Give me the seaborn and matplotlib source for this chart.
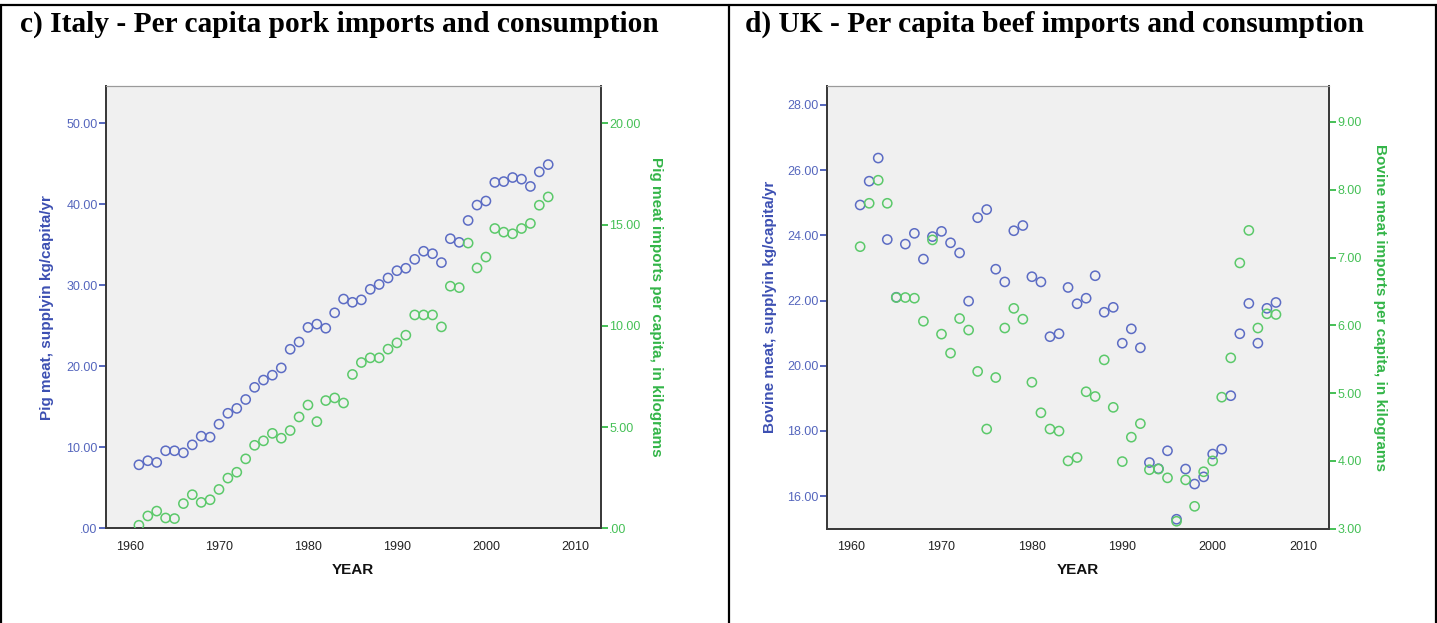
import matplotlib
matplotlib.use("Agg")
import matplotlib.pyplot as plt
from matplotlib.lines import Line2D
from matplotlib.ticker import FixedLocator, FuncFormatter
import seaborn as sns
import pandas as pd

# ---- data -------------------------------------------------------------
years = list(range(1961, 2008))

italy_pig_supply = [
    7.84, 8.34, 8.13, 9.57, 9.57, 9.32, 10.3, 11.37, 11.25, 12.85,
    14.2, 14.8, 15.9, 17.4, 18.3, 18.9, 19.8, 22.1, 23.0, 24.8,
    25.2, 24.7, 26.6, 28.3, 27.9, 28.2, 29.5, 30.1, 30.9, 31.8,
    32.1, 33.2, 34.2, 33.9, 32.8, 35.75, 35.3, 38.0, 39.9, 40.4,
    42.7, 42.8, 43.3, 43.1, 42.2, 44.0, 44.9,
]
italy_pig_imports = [
    0.15, 0.61, 0.85, 0.51, 0.48, 1.22, 1.66, 1.28, 1.41, 1.92,
    2.48, 2.77, 3.43, 4.10, 4.32, 4.69, 4.45, 4.83, 5.50, 6.09,
    5.27, 6.31, 6.44, 6.19, 7.60, 8.19, 8.42, 8.42, 8.85, 9.16,
    9.54, 10.54, 10.54, 10.54, 9.95, 11.96, 11.89, 14.09, 12.86, 13.40,
    14.81, 14.63, 14.55, 14.81, 15.06, 15.96, 16.37,
]
uk_beef_supply = [
    24.93, 25.66, 26.37, 23.87, 22.10, 23.73, 24.06, 23.27, 23.96, 24.12,
    23.77, 23.46, 21.98, 24.54, 24.79, 22.96, 22.57, 24.14, 24.30, 22.73,
    22.57, 20.89, 20.98, 22.40, 21.90, 22.07, 22.76, 21.64, 21.79, 20.69,
    21.13, 20.55, 17.03, 16.84, 17.39, 15.29, 16.83, 16.37, 16.59, 17.29,
    17.44, 19.08, 20.98, 21.91, 20.69, 21.76, 21.94,
]
uk_beef_imports = [
    7.16, 7.80, 8.14, 7.80, 6.41, 6.41, 6.40, 6.06, 7.26, 5.87,
    5.59, 6.10, 5.93, 5.32, 4.47, 5.23, 5.96, 6.25, 6.09, 5.16,
    4.71, 4.47, 4.44, 4.00, 4.05, 5.02, 4.95, 5.49, 4.79, 3.99,
    4.35, 4.55, 3.87, 3.88, 3.75, 3.11, 3.72, 3.33, 3.84, 4.00,
    4.94, 5.52, 6.92, 7.40, 5.96, 6.17, 6.16,
]

year_ticks = [1960, 1970, 1980, 1990, 2000, 2010]
italy_left_ticks = [0, 10, 20, 30, 40, 50]
italy_right_ticks = [0, 5, 10, 15, 20]
uk_left_ticks = [16, 18, 20, 22, 24, 26, 28]
uk_right_ticks = [3, 4, 5, 6, 7, 8, 9]

panel_titles = [
    "c) Italy - Per capita pork imports and consumption",
    "d) UK - Per capita beef imports and consumption",
]

# ---- style ------------------------------------------------------------
sns.set_style("white")
plt.rcParams["font.family"] = ["Liberation Sans", "DejaVu Sans"]

BLUE_MARK = "#5c6cc4"
BLUE_TEXT = "#5566bd"
BLUE_LABEL = "#3c4fb2"
GREEN_MARK = "#5bc96a"
GREEN_TEXT = "#45c056"
GREEN_LABEL = "#33b548"
SPINE = "#3a3a3a"
FACE = "#f0f0f0"


def spss_fmt(v, pos):
    s = f"{v:.2f}"
    return s[1:] if s.startswith("0") else s


fig = plt.figure(figsize=(14.37, 6.23), dpi=100)
W, H = 1437, 623


def px_axes(x0, y0, x1, y1):
    return fig.add_axes([x0 / W, 1 - y1 / H, (x1 - x0) / W, (y1 - y0) / H])


def draw_panel(rect, supply, imports, ylim_l, ylim_r, ticks_l, ticks_r,
               label_l, label_r, pad_l, pad_r):
    ax = px_axes(*rect)
    ax.set_facecolor(FACE)
    df = pd.DataFrame({"YEAR": years, "supply": supply, "imports": imports})

    sns.scatterplot(data=df, x="YEAR", y="supply", ax=ax, marker="o",
                    s=44, facecolors="none", edgecolor=BLUE_MARK,
                    linewidth=1.1, zorder=3)
    ax2 = ax.twinx()
    sns.scatterplot(data=df, x="YEAR", y="imports", ax=ax2, marker="o",
                    s=44, facecolors="none", edgecolor=GREEN_MARK,
                    linewidth=1.1, zorder=3)

    ax.set_xlim(1957.3, 2012.9)
    ax.set_ylim(*ylim_l)
    ax2.set_ylim(*ylim_r)

    ax.xaxis.set_major_locator(FixedLocator(year_ticks))
    ax.yaxis.set_major_locator(FixedLocator(ticks_l))
    ax2.yaxis.set_major_locator(FixedLocator(ticks_r))
    ax.yaxis.set_major_formatter(FuncFormatter(spss_fmt))
    ax2.yaxis.set_major_formatter(FuncFormatter(spss_fmt))

    for a in (ax, ax2):
        for side in ("left", "bottom", "right"):
            a.spines[side].set_color(SPINE)
            a.spines[side].set_linewidth(1.3)
        a.spines["top"].set_color("#9a9a9a")
        a.spines["top"].set_linewidth(0.8)

    ax.tick_params(axis="x", direction="out", length=6, width=1.0,
                   color=SPINE, labelsize=9, labelcolor="#222222", pad=3)
    ax.tick_params(axis="y", direction="out", length=5, width=1.4,
                   color=BLUE_TEXT, labelsize=9, labelcolor=BLUE_TEXT, pad=1)
    ax2.tick_params(axis="y", direction="out", length=5, width=1.4,
                    color=GREEN_TEXT, labelsize=9, labelcolor=GREEN_TEXT, pad=1)

    ax.set_xlabel("YEAR", fontsize=11, fontweight="bold", color="#111111",
                  labelpad=7)
    ax.set_ylabel(label_l, fontsize=11, fontweight="bold", color=BLUE_LABEL,
                  labelpad=pad_l)
    ax2.set_ylabel(label_r, fontsize=11, fontweight="bold",
                   color=GREEN_LABEL, rotation=270, labelpad=pad_r)
    ax2.set_xlabel("")
    return ax, ax2


draw_panel((106, 86, 600.7, 528.3), italy_pig_supply, italy_pig_imports,
           (0, 54.6), (0, 21.85), italy_left_ticks, italy_right_ticks,
           "Pig meat, supplyin kg/capita/yr",
           "Pig meat imports per capita, in kilograms", 9, 16)

draw_panel((826.7, 86, 1329.3, 528.7), uk_beef_supply, uk_beef_imports,
           (15.0, 28.58), (3.0, 9.53), uk_left_ticks, uk_right_ticks,
           "Bovine meat, supplyin kg/capita/yr",
           "Bovine meat imports per capita, in kilograms", 7, 18)

# ---- panel titles and table rules -------------------------------------
for x, title in zip((20, 745), panel_titles):
    fig.text(x / W, 1 - 32 / H, title, ha="left", va="baseline",
             fontsize=21.2, fontweight="bold",
             family=["Liberation Serif", "DejaVu Serif"], color="#000000")

rule = dict(color="#000000", linewidth=1.6, transform=fig.transFigure)
fig.add_artist(Line2D([0, 1], [1 - 5 / H, 1 - 5 / H], **rule))
for xp in (1.2, 729, 1435.8):
    fig.add_artist(Line2D([xp / W, xp / W], [0, 1 - 5 / H], **rule))

fig.savefig("out.png", dpi=100)
